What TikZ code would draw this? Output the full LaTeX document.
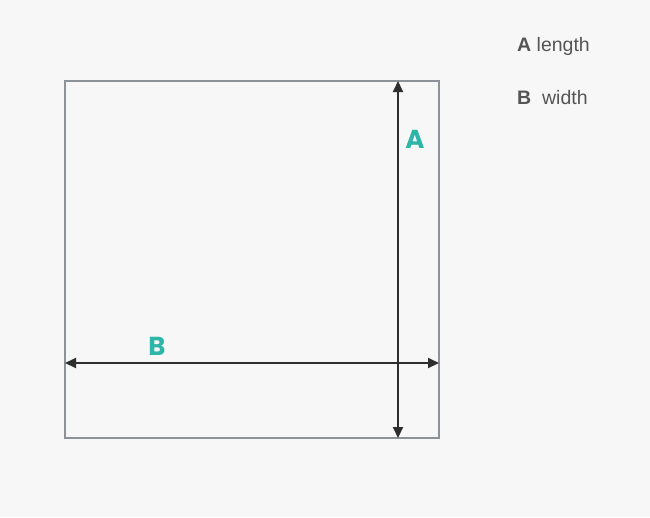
\documentclass[tikz,border=0pt]{standalone}
\usepackage{fontspec}
\setmainfont{Liberation Sans}
\newfontfamily\labelfont{Poppins}
\usetikzlibrary{arrows.meta}
\definecolor{bg}{HTML}{F7F7F7}
\definecolor{frame}{HTML}{8C9297}
\definecolor{dim}{HTML}{2E2E2E}
\definecolor{teal}{HTML}{2DB5A8}
\definecolor{legend}{HTML}{555555}
\tikzset{
  dimline/.style={dim, line width=2pt, {Triangle[length=11pt,width=10pt]}-{Triangle[length=11pt,width=10pt]}},
  dimlabel/.style={teal, font=\labelfont\fontsize{26}{28}\selectfont\bfseries, inner sep=0pt},
  legendtext/.style={legend, font=\fontsize{19.5}{21}\selectfont, anchor=west, inner sep=0pt}
}
\begin{document}
\begin{tikzpicture}[x=1pt,y=-1pt]
\fill[bg] (0,0) rectangle (650,517);
\useasboundingbox (0,0) rectangle (650,517);
\draw[frame, line width=2.4pt] (65,81) rectangle (439,438);
\coordinate (at) at (398,81);
\coordinate (ab) at (398,438);
\coordinate (bl) at (65,363);
\coordinate (br) at (439,363);
\draw[dimline] (at) -- (ab);
\draw[dimline] (bl) -- (br);
\node[dimlabel] (A) at (415,139) {A};
\node[dimlabel] (B) at (157,346) {B};
\node[legendtext] (la) at (517,46) {\textbf{A} length};
\node[legendtext] (lb) at (517,98) {\textbf{B}\ \ width};
\end{tikzpicture}
\end{document}
